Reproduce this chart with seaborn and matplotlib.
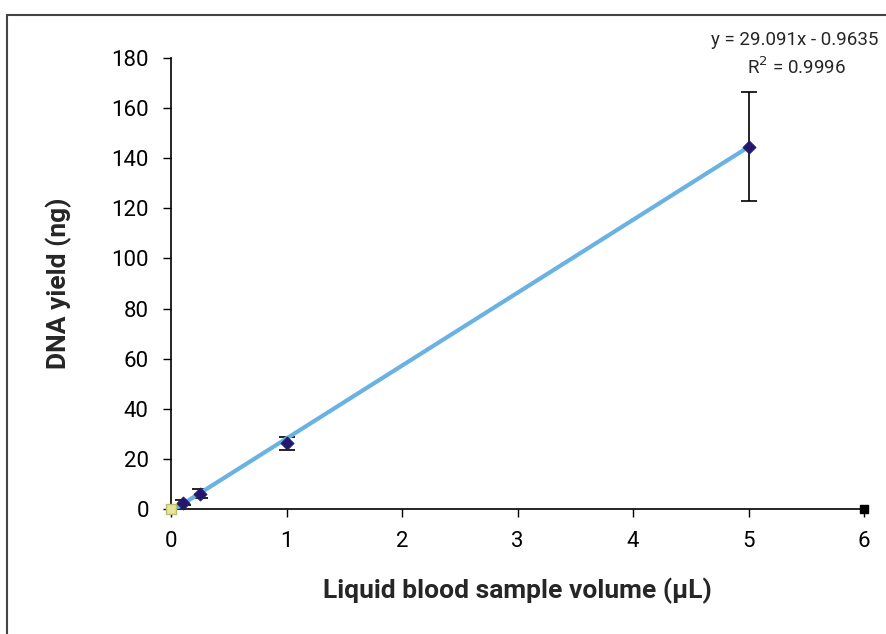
import matplotlib
matplotlib.use("Agg")
import matplotlib.pyplot as plt
import seaborn as sns
import numpy as np
import pandas as pd
from matplotlib.patches import Rectangle

# Data
volumes = [0.1, 0.25, 1, 5]
yields = [2.5, 6.0, 26.3, 144.5]
err_low = [1.0, 1.5, 2.8, 21.5]
err_high = [1.0, 2.0, 2.4, 22.0]
blank_x = [0]
blank_y = [0]
slope = 29.091
intercept = -0.9635
r2 = 0.9996
x_ticks = [0, 1, 2, 3, 4, 5, 6]
y_ticks = [0, 20, 40, 60, 80, 100, 120, 140, 160, 180]

sns.set_theme(style="white")
plt.rcParams['font.family'] = ['Roboto', 'DejaVu Sans']

fig = plt.figure(figsize=(8.86, 6.34), dpi=100)
ax = fig.add_axes([171/886, 1-509/634, (864-171)/886, (509-58)/634])

df = pd.DataFrame({"x": volumes, "y": yields})
fit_x = np.array([0, 5])
fit_df = pd.DataFrame({"x": fit_x, "y": slope*fit_x + intercept})

ax.errorbar(volumes, yields, yerr=[err_low, err_high], fmt="none",
            ecolor="black", elinewidth=1.2, capsize=6, capthick=1.2, zorder=2)
sns.lineplot(data=fit_df, x="x", y="y", ax=ax, color="#6AB2E2", linewidth=3, zorder=3)
sns.scatterplot(data=df, x="x", y="y", ax=ax, marker="D", s=45, color="#24186E",
                edgecolor="#24186E", zorder=4, clip_on=False)
ax.scatter(blank_x, blank_y, marker="s", s=55, color="#E6E69A", edgecolor="#BDBD70",
           zorder=5, clip_on=False)
ax.scatter([6], [0], marker="s", s=30, color="black", zorder=5, clip_on=False)

ax.set_xlim(0, 6)
ax.set_ylim(0, 180)
ax.set_xticks(x_ticks)
ax.set_yticks(y_ticks)
ax.tick_params(axis="both", labelsize=16, direction="out", length=6, width=1,
               colors="black", bottom=True, left=True)
ax.tick_params(axis="x", pad=10)
ax.tick_params(axis="y", pad=10)
for s in ["top", "right"]:
    ax.spines[s].set_visible(False)
for s in ["left", "bottom"]:
    ax.spines[s].set_color("black")
    ax.spines[s].set_linewidth(1.2)

ax.set_xlabel("Liquid blood sample volume (μL)", fontsize=19, fontweight="bold", labelpad=18)
ax.set_ylabel("DNA yield (ng)", fontsize=19, fontweight="bold", labelpad=28)

fig.text(795/886, 1-40/634, f"y = {slope}x - {abs(intercept)}", ha="center", va="center", fontsize=13.5)
fig.text(797/886, 1-67/634, f"R$^2$ = {r2}", ha="center", va="center", fontsize=13.5)

fig.patches.append(Rectangle((7/886, -0.05), 1.2, 1-15/634+0.05, transform=fig.transFigure,
                             fill=False, edgecolor="#444444", linewidth=1.5))

fig.savefig("out.png", dpi=100)
